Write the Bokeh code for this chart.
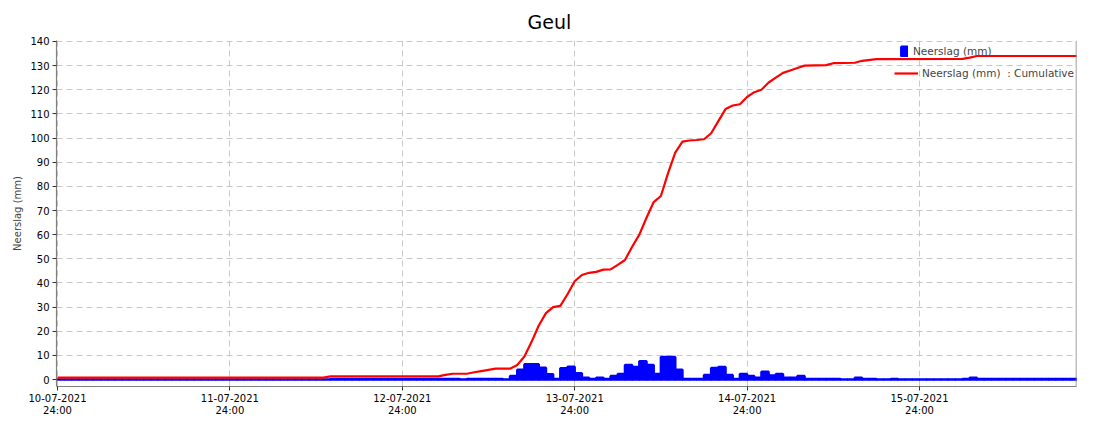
from bokeh.plotting import figure
from bokeh.models import (FixedTicker, Range1d, Legend, LegendItem, Span,
                          ColumnDataSource, LinearAxis)
from bokeh.embed import file_html
from bokeh.resources import INLINE

# ---------------- data ----------------
title_text = "Geul"
y_label = "Neerslag (mm)"
bar_series_name = "Neerslag (mm)"
cum_series_name = "Neerslag (mm)\u00a0 : Cumulative"

# x is hours after 10-07-2021 24:00
tick_hours = [0, 24, 48, 72, 96, 120]
tick_dates = ["10-07-2021", "11-07-2021", "12-07-2021", "13-07-2021", "14-07-2021", "15-07-2021"]
tick_times = ["24:00", "24:00", "24:00", "24:00", "24:00", "24:00"]
y_ticks = [0, 10, 20, 30, 40, 50, 60, 70, 80, 90, 100, 110, 120, 130, 140]

# hourly precipitation (mm), hour 0 .. 143 (bar spans [h, h+1])
bar_values = [
    0.05, 0.05, 0.05, 0.05, 0.05, 0.05, 0.05, 0.05, 0.05, 0.05,   # 0-9
    0.05, 0.05, 0.05, 0.05, 0.05, 0.05, 0.05, 0.05, 0.05, 0.05,   # 10-19
    0.05, 0.05, 0.05, 0.05, 0.05, 0.05, 0.05, 0.05, 0.05, 0.05,   # 20-29
    0.05, 0.05, 0.05, 0.05, 0.05, 0.05, 0.05, 0.05, 0.2, 0.2,     # 30-39
    0.2, 0.2, 0.2, 0.2, 0.2, 0.2, 0.2, 0.2, 0.2, 0.2,             # 40-49
    0.2, 0.2, 0.2, 0.2, 0.2, 0.2, 0.0, 0.2, 0.2, 0.2,             # 50-59
    0.2, 0.2, 0.0, 1.5, 4.0, 6.3, 6.3, 4.9, 2.2, 0.2,             # 60-69
    4.7, 5.3, 2.6, 0.7, 0.2, 0.7, 0.2, 1.5, 2.3, 6.0,             # 70-79
    5.2, 7.6, 6.0, 2.3, 9.3, 9.3, 4.0, 0.2, 0.2, 0.2,             # 80-89
    1.9, 4.8, 5.2, 1.9, 0.2, 2.3, 1.5, 0.7, 3.2, 1.7,             # 90-99
    2.3, 0.7, 0.7, 1.5, 0.2, 0.2, 0.2, 0.2, 0.2, 0.05,            # 100-109
    0.05, 0.7, 0.2, 0.2, 0.05, 0.05, 0.2, 0.05, 0.05, 0.05,       # 110-119
    0.05, 0.05, 0.05, 0.05, 0.05, 0.05, 0.2, 0.7, 0.2, 0.2,       # 120-129
    0.2, 0.2, 0.2, 0.2, 0.2, 0.2, 0.2, 0.2, 0.2, 0.2,             # 130-139
    0.2, 0.2, 0.2, 0.2,                                           # 140-143
]
bar_hours = list(range(len(bar_values)))

# cumulative precipitation (mm)
cum_hours = [0, 37, 38, 53, 54, 55, 57, 58, 59, 60, 61, 63, 64, 65, 66, 67,
             68, 69, 70, 71, 72, 73, 74, 75, 76, 77, 78, 79, 80, 81, 82, 83,
             84, 85, 86, 87, 88, 89, 90, 91, 92, 93, 94, 95, 96, 97, 98, 99,
             100, 101, 102, 103, 104, 107, 108, 111, 112, 114, 126, 127, 128, 144]
cum_values = [0.8, 0.8, 1.3, 1.3, 1.9, 2.4, 2.4, 3.0, 3.5, 4.0, 4.5, 4.5, 6.0, 9.5, 15.6, 22.4,
              27.5, 30.0, 30.5, 35.3, 40.7, 43.3, 44.2, 44.6, 45.5, 45.6, 47.5, 49.5, 55.0, 60.0, 67.0, 73.5,
              76.0, 85.5, 94.0, 98.5, 99.0, 99.2, 99.5, 102.0, 107.0, 112.0, 113.5, 114.0, 117.0, 119.0, 120.0, 123.0,
              125.0, 127.0, 128.0, 129.0, 130.0, 130.2, 131.0, 131.2, 132.0, 132.7, 132.8, 133.3, 134.0, 134.0]

# ---------------- figure ----------------
FONT = "DejaVu Sans"
GRID = "#c8c8c8"
AXIS = "#808080"
X_END = 141.86

p = figure(width=1078, height=418, output_backend="svg", toolbar_location=None,
           x_range=Range1d(-0.14, X_END), y_range=Range1d(-2.89, 140.41),
           min_border_left=56, min_border_right=2, min_border_top=40,
           min_border_bottom=31, title=title_text)
p.outline_line_color = None
p.background_fill_color = "white"
p.border_fill_color = "white"

p.title.text_font = FONT
p.title.text_font_size = "19px"
p.title.text_font_style = "normal"
p.title.align = "left"
p.title.offset = 471
p.title.standoff = 16
p.title.text_color = "black"

bar_src = ColumnDataSource(dict(x=[h + 0.5 for h in bar_hours], top=bar_values))
bars = p.vbar(x="x", top="top", bottom=0, width=1.0, source=bar_src,
              fill_color="#0000ff", line_color="#0000ff", line_width=2.5)
line = p.line(cum_hours, cum_values, line_color="#ff0000", line_width=2.2)

# axes
xa = p.xaxis[0]
xa.ticker = FixedTicker(ticks=tick_hours)
xa.major_label_overrides = {h: d for h, d in zip(tick_hours, tick_dates)}
xa2 = LinearAxis(ticker=FixedTicker(ticks=tick_hours),
                 major_label_overrides={h: t for h, t in zip(tick_hours, tick_times)},
                 axis_line_color=None, major_tick_line_color=None,
                 minor_tick_line_color=None, major_tick_out=0, major_tick_in=0,
                 major_label_standoff=0, major_label_text_font=FONT,
                 major_label_text_font_size="10px", major_label_text_color="black")
p.add_layout(xa2, "below")

ya = p.yaxis[0]
ya.ticker = FixedTicker(ticks=y_ticks)
ya.axis_label = y_label
ya.axis_label_text_font = FONT
ya.axis_label_text_font_size = "10px"
ya.axis_label_text_font_style = "normal"
ya.axis_label_standoff = 4
for ax in (xa, ya):
    ax.axis_line_color = AXIS
    ax.axis_line_width = 1.2
    ax.major_tick_line_color = "#333333"
    ax.major_tick_in = 0
    ax.major_tick_out = 4
    ax.minor_tick_line_color = None
    ax.major_label_text_font = FONT
    ax.major_label_text_font_size = "10px"
    ax.major_label_text_color = "black"
xa.major_label_standoff = 3
ya.major_label_standoff = 3

# right border of the plot area
p.add_layout(Span(location=X_END, dimension="height", line_color=AXIS, line_width=1.5))

for g in (p.xgrid[0], p.ygrid[0]):
    g.grid_line_color = GRID
    g.grid_line_dash = "6 4"
    g.grid_line_width = 1
p.xgrid[0].ticker = FixedTicker(ticks=tick_hours)
p.ygrid[0].ticker = FixedTicker(ticks=y_ticks)

leg1 = Legend(items=[LegendItem(label=bar_series_name, renderers=[bars])],
              location=(844, 329), glyph_width=8, glyph_height=12,
              label_standoff=5, padding=0, margin=0, spacing=0,
              background_fill_alpha=0, border_line_color=None,
              label_text_font=FONT, label_text_font_size="10.5px", label_height=13)
leg2 = Legend(items=[LegendItem(label=cum_series_name, renderers=[line])],
              location=(838, 307), glyph_width=24, glyph_height=12,
              label_standoff=4, padding=0, margin=0, spacing=0,
              background_fill_alpha=0, border_line_color=None,
              label_text_font=FONT, label_text_font_size="10.5px", label_height=13)
p.add_layout(leg1, "center")
p.add_layout(leg2, "center")

open("out.html", "w").write(file_html(p, INLINE))
